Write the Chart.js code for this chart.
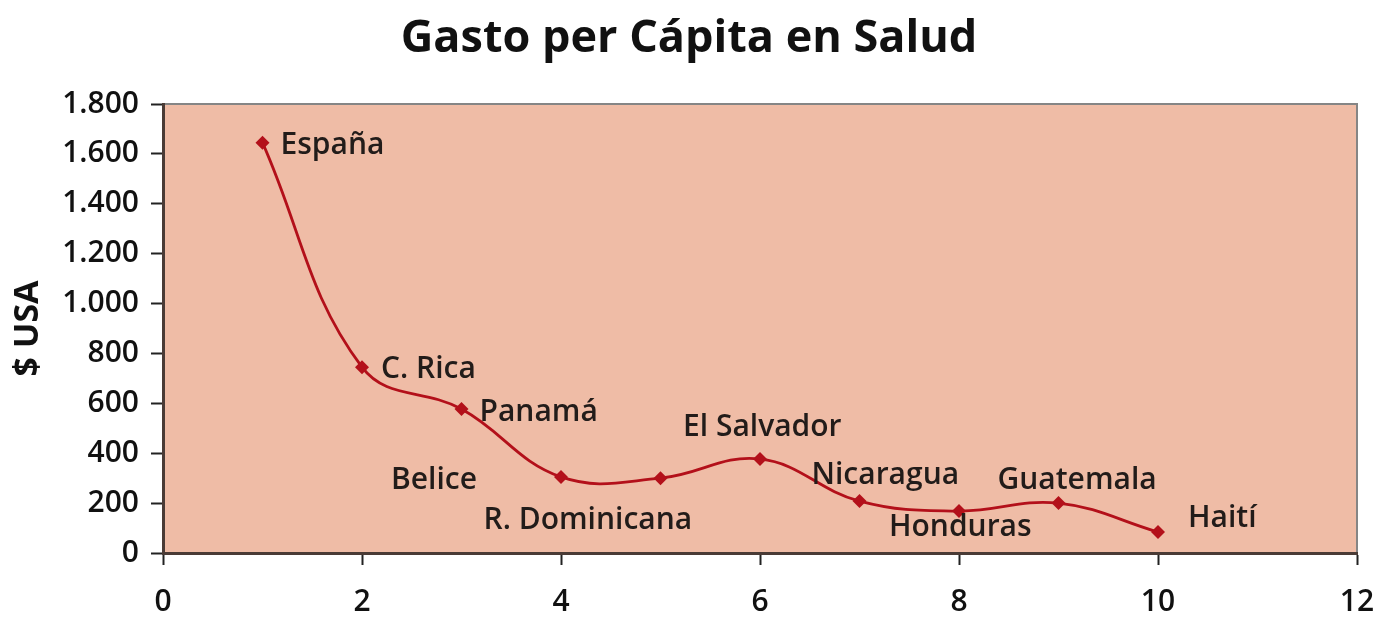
<!DOCTYPE html>
<html>
<head>
<meta charset="utf-8">
<script src="https://cdn.jsdelivr.net/npm/chart.js@4"></script>
<style>
  html, body { margin: 0; padding: 0; background: #ffffff; }
  #wrap { width: 1378px; height: 620px; }
</style>
</head>
<body>
<div id="wrap"><canvas id="c" width="1378" height="620"></canvas></div>
<script>
// ---- data ----
const countries = ["España", "C. Rica", "Panamá", "Belice", "R. Dominicana", "El Salvador", "Nicaragua", "Honduras", "Guatemala", "Haití"];
const xValues = [1, 2, 3, 4, 5, 6, 7, 8, 9, 10];
const gasto = [1645, 745, 577, 305, 300, 377, 208, 168, 200, 84];
const xTicks = [0, 2, 4, 6, 8, 10, 12];
const yTicks = [0, 200, 400, 600, 800, 1000, 1200, 1400, 1600, 1800];
const chartTitle = "Gasto per Cápita en Salud";
const yTitle = "$ USA";

// label placement (pixel offsets from each point, left-aligned text)
const labelOffsets = [[18, 3], [19, 2], [18, 3], [-170, 4], [-177, 42], [-77, -32], [-48, -26], [-70, 16], [-61, -23], [30, -14]];

const FONT = "'Open Sans', 'Noto Sans', sans-serif";

const points = xValues.map((x, i) => ({ x: x, y: gasto[i] }));

const fmt = v => String(v).replace(/\B(?=(\d{3})+(?!\d))/g, ".");

const plotBg = {
  id: 'plotBg',
  beforeDraw(chart) {
    const { ctx, chartArea: a } = chart;
    ctx.save();
    ctx.fillStyle = '#EFBCA6';
    ctx.fillRect(a.left, a.top, a.right - a.left, a.bottom - a.top);
    ctx.strokeStyle = '#858585';
    ctx.lineWidth = 2;
    ctx.beginPath();
    ctx.moveTo(a.left, a.top);
    ctx.lineTo(a.right, a.top);
    ctx.lineTo(a.right, a.bottom);
    ctx.stroke();
    ctx.restore();
  }
};

const pointLabels = {
  id: 'pointLabels',
  afterDatasetsDraw(chart) {
    const { ctx } = chart;
    const meta = chart.getDatasetMeta(0);
    ctx.save();
    ctx.font = "600 30px " + FONT;
    ctx.fillStyle = '#221c1a';
    ctx.textAlign = 'left';
    ctx.textBaseline = 'middle';
    meta.data.forEach((pt, i) => {
      const off = labelOffsets[i];
      ctx.fillText(countries[i], pt.x + off[0], pt.y + off[1]);
    });
    ctx.restore();
  }
};

new Chart(document.getElementById('c'), {
  type: 'line',
  data: {
    datasets: [{
      label: 'Gasto',
      data: points,
      borderColor: '#B3101A',
      backgroundColor: '#B3101A',
      borderWidth: 2.8,
      tension: 0.4,
      pointStyle: 'rectRot',
      pointRadius: 7,
      pointBorderWidth: 0,
      fill: false
    }]
  },
  options: {
    responsive: false,
    animation: false,
    layout: { padding: 0 },
    plugins: {
      legend: { display: false },
      tooltip: { enabled: false },
      title: {
        display: true,
        text: chartTitle,
        color: '#111111',
        font: { family: FONT, size: 45, weight: 'bold' },
        padding: { top: 12, bottom: 38 }
      }
    },
    scales: {
      x: {
        type: 'linear',
        min: 0, max: 12,
        afterBuildTicks: s => { s.ticks = xTicks.map(v => ({ value: v })); },
        afterFit: s => { s.height = 67; s.paddingLeft = 0; s.paddingRight = 0; },
        ticks: {
          color: '#111111',
          font: { family: FONT, size: 30, weight: '600' },
          padding: 19
        },
        grid: {
          drawOnChartArea: false,
          drawTicks: true,
          tickLength: 12,
          tickColor: '#222222',
          tickWidth: 2
        },
        border: { display: true, color: '#4a3b36', width: 3 }
      },
      y: {
        type: 'linear',
        min: 0, max: 1800,
        afterBuildTicks: s => { s.ticks = yTicks.map(v => ({ value: v })); },
        afterFit: s => { s.width = 163; },
        ticks: {
          color: '#111111',
          font: { family: FONT, size: 30, weight: '600' },
          padding: 12,
          callback: v => fmt(v)
        },
        grid: {
          drawOnChartArea: false,
          drawTicks: true,
          tickLength: 12,
          tickColor: '#222222',
          tickWidth: 2
        },
        border: { display: true, color: '#4a3b36', width: 3 },
        title: {
          display: true,
          text: yTitle,
          color: '#111111',
          font: { family: FONT, size: 34, weight: 'bold' },
          padding: { top: 8, bottom: 0 }
        }
      },
      yR: {
        type: 'linear',
        position: 'right',
        display: true,
        min: 0, max: 1800,
        afterFit: s => { s.width = 21; },
        ticks: { display: false },
        grid: { display: false, drawTicks: false },
        border: { display: false }
      }
    }
  },
  plugins: [plotBg, pointLabels]
});
</script>
</body>
</html>
